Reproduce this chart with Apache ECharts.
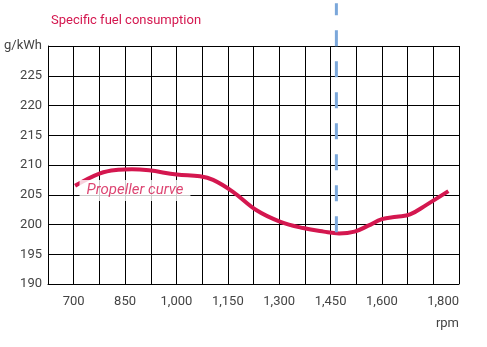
<!DOCTYPE html>
<html><head><meta charset="utf-8">
<script src="https://cdn.jsdelivr.net/npm/echarts@6/dist/echarts.min.js"></script>
<style>html,body{margin:0;padding:0;background:#fff}#c{width:487px;height:347px}</style>
</head><body><div id="c"></div>
<script>
// Data
const rpmStart = 625;            // left edge of plot (rpm)
const rpmValues = [704, 777, 830, 870, 920, 1001, 1069, 1107, 1165, 1234, 1302, 1370, 1430, 1475, 1520, 1560, 1600, 1643, 1682, 1730, 1794];
const sfcValues = [206.5, 208.6, 209.2, 209.3, 209.1, 208.4, 208.1, 207.5, 205.5, 202.4, 200.5, 199.4, 198.8, 198.5, 198.8, 199.8, 200.9, 201.3, 201.7, 203.3, 205.6];
const xTickRpm = [700, 850, 1000, 1150, 1300, 1450, 1600, 1825];
const xTickLabels = ['700', '850', '1,000', '1,150', '1,300', '1,450', '1,600', '1,800'];
const yTicks = [190, 195, 200, 205, 210, 215, 220, 225];
const ratedRpm = 1467;
const ratedLine = [198.7, 237.2];
const curveLabel = {text: 'Propeller curve', rpm: 879, value: 205.7};

const red = '#d4174f';
const chart = echarts.init(document.getElementById('c'));
const off = r => r - rpmStart;
chart.setOption({
  animation: false,
  backgroundColor: '#fff',
  title: {text: 'Specific fuel consumption', left: 46, top: 9,
    textStyle: {color: red, fontSize: 13, fontWeight: 'normal', fontFamily: 'Roboto'}},
  grid: {left: 48, right: 28, top: 46, bottom: 63},
  xAxis: {type: 'value', min: 0, max: 1200, interval: 75,
    axisLine: {lineStyle: {color: '#000', width: 1}}, axisTick: {show: false},
    splitLine: {show: true, lineStyle: {color: '#000', width: 1}},
    axisLabel: {color: '#444', fontSize: 13, fontFamily: 'Roboto', margin: 11,
      showMaxLabel: true, alignMaxLabel: 'right',
      formatter: v => { const i = xTickRpm.indexOf(v + rpmStart); return i >= 0 ? xTickLabels[i] : ''; }},
    name: 'rpm', nameLocation: 'end', nameGap: 0,
    nameTextStyle: {color: '#444', fontSize: 13, fontFamily: 'Roboto', align: 'right', verticalAlign: 'top', padding: [33, 0, 0, 0]}
  },
  yAxis: {type: 'value', min: 190, max: 230, interval: 5,
    axisLine: {show: true, lineStyle: {color: '#000', width: 1}}, axisTick: {show: false},
    splitLine: {show: true, lineStyle: {color: '#000', width: 1}},
    axisLabel: {color: '#444', fontSize: 13, fontFamily: 'Roboto', margin: 6,
      formatter: v => yTicks.indexOf(v) >= 0 ? String(v) : (v === 230 ? 'g/kWh' : '')}
  },
  series: [
    {type: 'line', data: rpmValues.map((r, i) => [off(r), sfcValues[i]]),
      smooth: 0.4, showSymbol: false, symbol: 'none',
      lineStyle: {color: red, width: 4}, z: 3},
    {type: 'line', data: [[off(ratedRpm), ratedLine[0]], [off(ratedRpm), ratedLine[1]]],
      clip: false, showSymbol: false, symbol: 'none',
      lineStyle: {color: '#7ba7da', width: 3, type: [16, 15]}, z: 4},
    {type: 'scatter', data: [[off(curveLabel.rpm), curveLabel.value]], symbolSize: 0,
      label: {show: true, position: 'inside', formatter: curveLabel.text,
        color: red, fontSize: 15, fontStyle: 'italic', fontFamily: 'Roboto',
        backgroundColor: '#fff', padding: [3, 7, 3, 7]}, z: 5}
  ]
});
</script></body></html>
